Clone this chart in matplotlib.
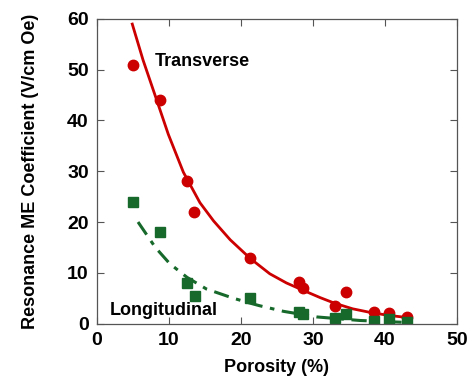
import numpy as np
import matplotlib
matplotlib.use("Agg")
import matplotlib.pyplot as plt

plt.rcParams['font.family'] = ['Liberation Sans', 'DejaVu Sans']
plt.rcParams['font.weight'] = 'bold'

# measured points
poro_t = [5.0, 8.8, 12.5, 13.5, 21.3, 28.1, 28.6, 33.0, 34.6, 38.5, 40.6, 43.0]
me_t = [51.0, 44.0, 28.0, 22.0, 13.0, 8.2, 7.0, 3.5, 6.2, 2.3, 2.0, 1.2]

poro_l = [5.0, 8.8, 12.5, 13.6, 21.3, 28.0, 28.6, 33.0, 34.6, 38.5, 40.6, 43.0]
me_l = [24.0, 18.0, 8.0, 5.5, 5.0, 2.2, 1.8, 1.0, 1.8, 0.5, 0.8, 0.2]

# fit curves
fit_t_x = [4.9, 6.4, 8.3, 9.9, 12.0, 14.3, 16.2, 18.5, 21.3, 24.0, 26.3, 28.7, 31.0, 33.0, 35.5, 37.9, 40.5, 43.3]
fit_t_y = [59.0, 51.9, 44.0, 37.3, 29.8, 23.8, 20.2, 16.5, 12.8, 9.8, 8.0, 6.5, 5.1, 4.0, 2.9, 2.2, 1.6, 1.15]

fit_l_x = [5.7, 8.1, 10.1, 12.5, 15.2, 18.9, 21.3, 22.6, 25.9, 30.5, 36.5, 42.3]
fit_l_y = [20.0, 15.0, 11.8, 9.1, 6.8, 5.0, 4.0, 3.5, 2.4, 1.3, 0.6, 0.25]

red = '#cc0000'
green = '#16692a'

fig = plt.figure(figsize=(4.69, 3.79), dpi=100)
ax = fig.add_axes([0.2068, 0.1464, 0.7676, 0.8035])

ax.plot(fit_t_x, fit_t_y, color=red, lw=2.0, solid_joinstyle='round')
ax.plot(fit_l_x, fit_l_y, color=green, lw=2.2, dashes=(5, 2.5, 1.5, 2.5))
ax.plot(poro_t, me_t, 'o', color=red, ms=7.5, mec=red)
ax.plot(poro_l, me_l, 's', color=green, ms=7.5, mec=green)

ax.text(8.0, 51.6, 'Transverse', fontsize=13, fontweight='bold', va='center', ha='left')
ax.text(1.8, 2.5, 'Longitudinal', fontsize=13, fontweight='bold', va='center', ha='left')

ax.set_xlim(0, 50)
ax.set_ylim(0, 60)
ax.set_xticks([0, 10, 20, 30, 40, 50])
ax.set_yticks([0, 10, 20, 30, 40, 50, 60])
ax.tick_params(direction='in', top=True, right=True, length=5, width=0.8,
               labelsize=14, pad=6, color='#555555')
for lab in ax.get_xticklabels() + ax.get_yticklabels():
    lab.set_fontweight('bold')
for sp in ax.spines.values():
    sp.set_color('#555555')
    sp.set_linewidth(0.9)

ax.set_xlabel('Porosity (%)', fontsize=13, fontweight='bold', labelpad=7)
ax.set_ylabel('Resonance ME Coefficient (V/cm Oe)', fontsize=13, fontweight='bold', labelpad=20)

fig.savefig('out.png', dpi=100)
